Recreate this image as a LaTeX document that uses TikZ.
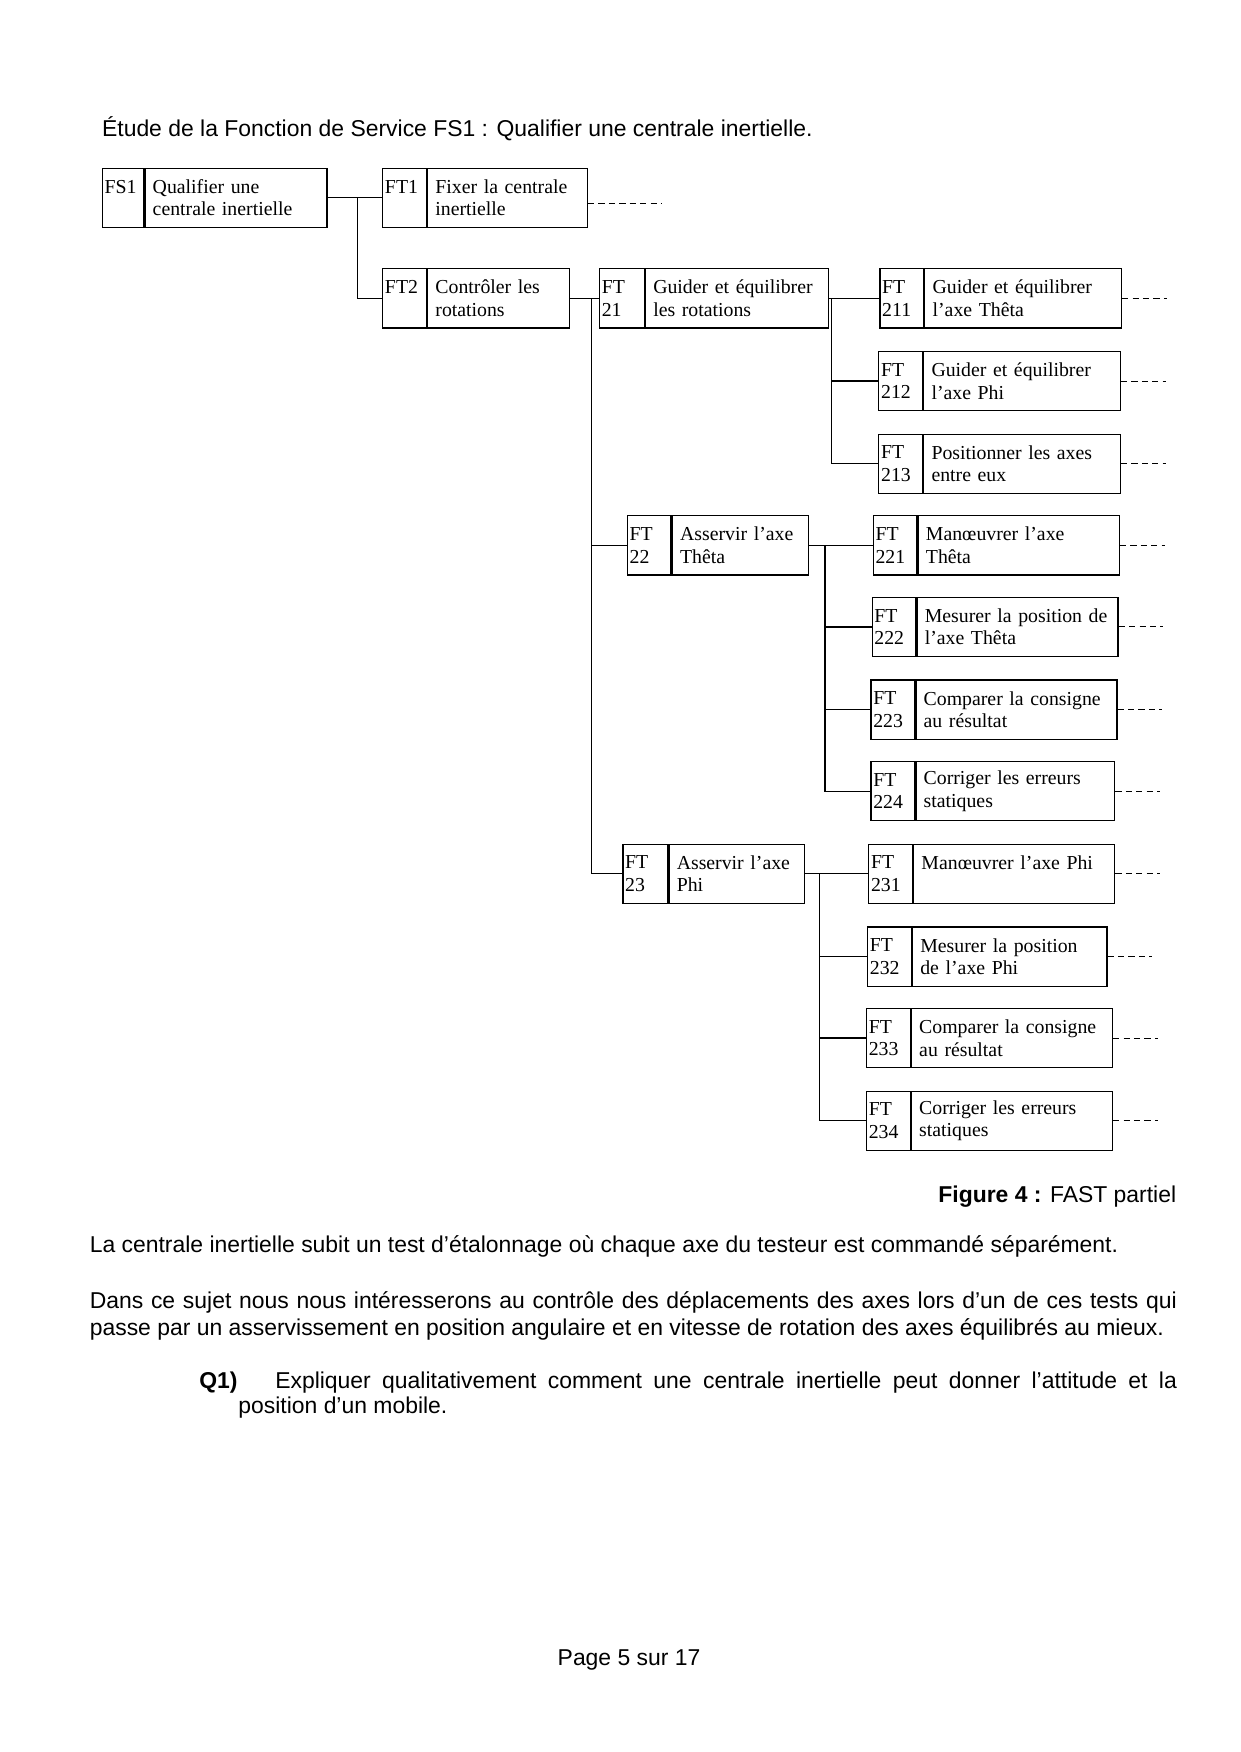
\documentclass[tikz,border=0pt]{standalone}
\usepackage{fontspec}
\setmainfont{Liberation Serif}
\newfontfamily\arial{Liberation Sans}
\usetikzlibrary{positioning}
\def\px{0.5362pt}
\begin{document}
\begin{tikzpicture}[x=\px,y=-\px,every node/.style={inner sep=0pt},
    num/.style={draw,anchor=north west,minimum height=53*\px,align=left,inner xsep=2*\px,
      line width=0.6pt,font=\fontsize{9.5}{10.8}\selectfont},
    lab/.style={draw,minimum height=53*\px,align=left,inner xsep=7*\px,
      line width=0.6pt,font=\fontsize{9.5}{10.8}\selectfont},
    txt/.style={anchor=base west,font=\arial\fontsize{11}{13}\selectfont},
    link/.style={line width=0.6pt},
    more/.style={dash pattern=on 3pt off 2pt,line width=0.5pt}]
    \useasboundingbox (0,0) rectangle (1110,1568);
    \node[txt] (title) at (91,122) {Étude de la Fonction de Service FS1 : Qualifier une centrale inertielle.};
    % niveau 0 et 1
    \node[num,text width=33*\px] (fs1c) at (91,150) {FS1\\~};
    \node[lab,text width=149*\px,right=0pt of fs1c] (fs1) {Qualifier une\\centrale inertielle};
    \node[num,text width=35*\px] (ft1c) at (342,150) {FT1\\~};
    \node[lab,text width=129*\px,right=0pt of ft1c] (ft1) {Fixer la centrale\\inertielle};
    \node[num,text width=35*\px] (ft2c) at (342,240) {FT2\\~};
    \node[lab,text width=113*\px,right=0pt of ft2c] (ft2) {Contrôler les\\rotations};
    % niveau 2
    \node[num,text width=36*\px] (ft21c) at (536,240) {FT\\21};
    \node[lab,text width=150*\px,right=0pt of ft21c] (ft21) {Guider et équilibrer\\les rotations};
    \node[num,text width=35*\px] (ft22c) at (561,461) {FT\\22};
    \node[lab,text width=108*\px,right=0pt of ft22c] (ft22) {Asservir l’axe\\Thêta};
    \node[num,text width=36*\px] (ft23c) at (557,755) {FT\\23};
    \node[lab,text width=107*\px,right=0pt of ft23c] (ft23) {Asservir l’axe\\Phi};
    % niveau 3
    \node[num,text width=35*\px] (ft211c) at (787,240) {FT\\211};
    \node[lab,text width=162*\px,right=0pt of ft211c] (ft211) {Guider et équilibrer\\l’axe Thêta};
    \node[num,text width=35*\px] (ft212c) at (786,314) {FT\\212};
    \node[lab,text width=162*\px,right=0pt of ft212c] (ft212) {Guider et équilibrer\\l’axe Phi};
    \node[num,text width=35*\px] (ft213c) at (786,388) {FT\\213};
    \node[lab,text width=162*\px,right=0pt of ft213c] (ft213) {Positionner les axes\\entre eux};
    \node[num,text width=35*\px] (ft221c) at (781,461) {FT\\221};
    \node[lab,text width=166*\px,right=0pt of ft221c] (ft221) {Manœuvrer l’axe\\Thêta};
    \node[num,text width=35*\px] (ft222c) at (780,534) {FT\\222};
    \node[lab,text width=166*\px,right=0pt of ft222c] (ft222) {Mesurer la position de\\l’axe Thêta};
    \node[num,text width=35*\px] (ft223c) at (779,608) {FT\\223};
    \node[lab,text width=166*\px,right=0pt of ft223c] (ft223) {Comparer la consigne\\au résultat};
    \node[num,text width=35*\px] (ft224c) at (779,681) {FT\\224};
    \node[lab,text width=164*\px,right=0pt of ft224c] (ft224) {Corriger les erreurs\\statiques};
    \node[num,text width=35*\px] (ft231c) at (777,755) {FT\\231};
    \node[lab,text width=166*\px,right=0pt of ft231c] (ft231) {Manœuvrer l’axe Phi\\~};
    \node[num,text width=35*\px] (ft232c) at (776,829) {FT\\232};
    \node[lab,text width=160*\px,right=0pt of ft232c] (ft232) {Mesurer la position\\de l’axe Phi};
    \node[num,text width=35*\px] (ft233c) at (775,902) {FT\\233};
    \node[lab,text width=166*\px,right=0pt of ft233c] (ft233) {Comparer la consigne\\au résultat};
    \node[num,text width=35*\px] (ft234c) at (775,976) {FT\\234};
    \node[lab,text width=166*\px,right=0pt of ft234c] (ft234) {Corriger les erreurs\\statiques};
    % liaisons
    \coordinate (b0) at ([xshift=27*\px]fs1.east);
    \coordinate (b1) at ([xshift=19*\px]ft2.east);
    \coordinate (b21) at ([xshift=2*\px]ft21.east);
    \coordinate (b22) at ([xshift=14*\px]ft22.east);
    \coordinate (b23) at ([xshift=13*\px]ft23.east);
    \draw[link] (fs1.east) -- (ft1c.west) (b0) |- (ft2c.west);
    \draw[link] (ft2.east) -- (ft21c.west) (b1) |- (ft22c.west) (b1) |- (ft23c.west);
    \draw[link] (ft21.east) -- (b21) |- (ft211c.west) (b21) |- (ft212c.west) (b21) |- (ft213c.west);
    \draw[link] (ft22.east) -- (b22) |- (ft221c.west) (b22) |- (ft222c.west) (b22) |- (ft223c.west) (b22) |- (ft224c.west);
    \draw[link] (ft23.east) -- (b23) |- (ft231c.west) (b23) |- (ft232c.west) (b23) |- (ft233c.west) (b23) |- (ft234c.west);
    \draw[more] ([yshift=-5*\px]ft1.east) -- ++(66,0);
    \foreach \n in {ft211,ft212,ft213,ft221,ft222,ft223,ft224,ft231,ft232,ft233,ft234}
        \draw[more] (\n.east) -- ++(40,0);
    % texte
    \node[txt,anchor=base east] (fig) at (1053,1076) {\textbf{Figure 4 :} FAST partiel};
    \node[txt] (p1) at (80,1121) {La centrale inertielle subit un test d’étalonnage où chaque axe du testeur est commandé séparément.};
    \node[txt] (p2) at (80,1171) {\makebox[521.7pt][s]{Dans ce sujet nous nous intéresserons au contrôle des déplacements des axes lors d’un de ces tests qui}};
    \node[txt] (p3) at (80,1195) {passe par un asservissement en position angulaire et en vitesse de rotation des axes équilibrés au mieux.};
    \node[txt] (q1) at (178,1243) {\textbf{Q1)}};
    \node[txt] (q1a) at (246,1243) {\makebox[432.7pt][s]{Expliquer qualitativement comment une centrale inertielle peut donner l’attitude et la}};
    \node[txt] (q1b) at (213,1265) {position d’un mobile.};
    \node[txt,anchor=base] (page) at (563,1491) {Page 5 sur 17};
\end{tikzpicture}
\end{document}
